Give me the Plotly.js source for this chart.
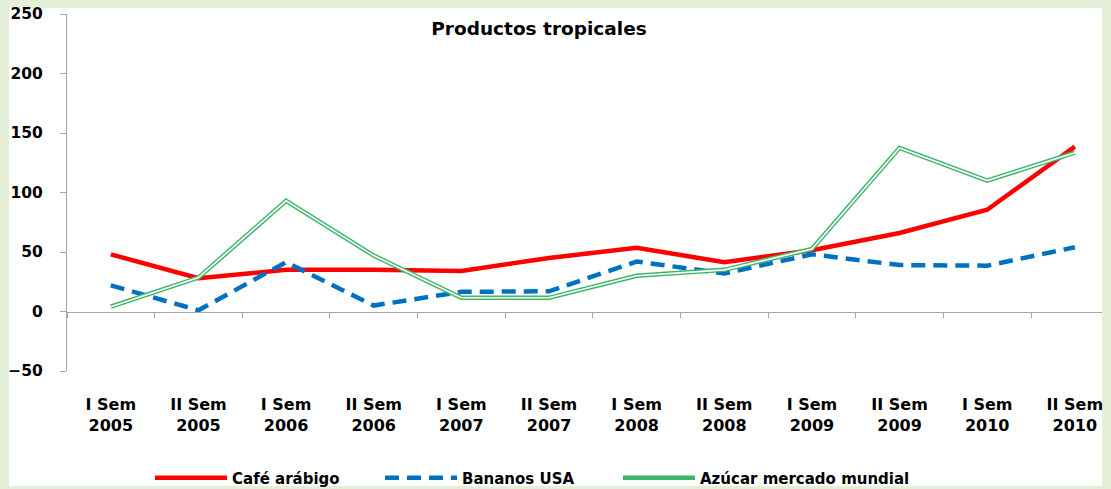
<!DOCTYPE html>
<html>
<head>
<meta charset="utf-8">
<script src="https://cdn.plot.ly/plotly-3.0.1.min.js"></script>
<style>html,body{margin:0;padding:0;background:#E5EFD8;}#chart{width:1111px;height:489px;}</style>
</head>
<body>
<div id="chart"></div>
<script>
const categories = ["I Sem<br>2005","II Sem<br>2005","I Sem<br>2006","II Sem<br>2006","I Sem<br>2007","II Sem<br>2007","I Sem<br>2008","II Sem<br>2008","I Sem<br>2009","II Sem<br>2009","I Sem<br>2010","II Sem<br>2010"];
const cafeArabigo = [48, 28, 35, 35, 34, 45, 53.5, 41.5, 51.5, 66, 85.5, 138.5];
const bananosUSA = [22, 1, 41.5, 5, 16.5, 17, 42, 32, 48, 39, 38.5, 54];
const azucarMundial = [4, 28.5, 93, 47, 11.5, 11.5, 30, 35, 52.5, 137.5, 110, 133.5];
const yTicks = [-50, 0, 50, 100, 150, 200, 250];

const FONT = "DejaVu Sans, sans-serif";
const traces = [
  {x: categories, y: cafeArabigo, name: "Café arábigo", type: "scatter", mode: "lines", legend: "legend",
   line: {color: "#FF0000", width: 4.5}},
  {x: categories, y: bananosUSA, name: "Bananos USA", type: "scatter", mode: "lines", legend: "legend2",
   line: {color: "#0070C0", width: 4.5, dash: "14px,8px"}},
  {x: categories, y: azucarMundial, name: "Azúcar mercado mundial", type: "scatter", mode: "lines",
   legend: "legend3", legendgroup: "az", line: {color: "#3DB56A", width: 4.5}},
  {x: categories, y: azucarMundial, name: "Azúcar mercado mundial", type: "scatter", mode: "lines",
   legend: "legend3", legendgroup: "az", showlegend: false, hoverinfo: "skip", line: {color: "#FFFFFF", width: 1.6}},
  {x: categories, y: categories.map(() => null), xaxis: "x2", type: "scatter", mode: "lines",
   showlegend: false, hoverinfo: "skip"}
];

const plotL = 67, plotR = 1102, plotT = 14, plotB = 371;
const pw = plotR - plotL, ph = plotB - plotT;
function legendAt(px) {
  return {orientation: "h", xref: "container", yref: "container", x: px/1111, y: 1 - 478/489,
          xanchor: "left", yanchor: "middle", bgcolor: "rgba(0,0,0,0)", itemwidth: 72,
          font: {family: FONT, size: 15, weight: "bold", color: "#000"}};
}
const layout = {
  width: 1111, height: 489,
  margin: {l: plotL, r: 1111 - plotR, t: plotT, b: 489 - plotB, pad: 0},
  paper_bgcolor: "#E5EFD8",
  plot_bgcolor: "rgba(0,0,0,0)",
  font: {family: FONT, color: "#000000", size: 15.5},
  title: {text: "<b>Productos tropicales</b>", font: {family: FONT, size: 18.5, color: "#000"},
          xref: "container", yref: "container", x: 539/1111, y: 1 - 29/489, xanchor: "center", yanchor: "middle"},
  shapes: [{type: "rect", xref: "paper", yref: "paper", layer: "below",
            x0: (9 - plotL)/pw, x1: 1, y0: (plotB - 486)/ph, y1: (plotB - 8)/ph,
            fillcolor: "#FFFFFF", line: {width: 0}}],
  xaxis: {type: "category", range: [-0.5, 11.31], showline: false, showgrid: false, zeroline: false,
          ticks: "", ticklabelstandoff: 22, tickfont: {family: FONT, size: 16, weight: "bold", color: "#000"},
          fixedrange: true},
  xaxis2: {type: "category", overlaying: "x", anchor: "free", position: 50/300, matches: "x",
           range: [-0.5, 11.31], showline: true, linecolor: "#A6A6A6", linewidth: 1,
           ticks: "outside", tickson: "boundaries", ticklen: 5, tickcolor: "#A6A6A6", tickwidth: 1,
           showticklabels: false, showgrid: false, zeroline: false},
  yaxis: {range: [-50, 250], tickvals: yTicks, showline: true, linecolor: "#A6A6A6", linewidth: 1,
          ticks: "outside", ticklen: 6, tickcolor: "#A6A6A6", showgrid: false, zeroline: false,
          ticklabelstandoff: 14, tickfont: {family: FONT, size: 15.5, weight: "bold", color: "#000"}},
  showlegend: true,
  legend: legendAt(150),
  legend2: legendAt(380),
  legend3: legendAt(618)
};

Plotly.newPlot("chart", traces, layout, {displayModeBar: false, staticPlot: true});
</script>
</body>
</html>
